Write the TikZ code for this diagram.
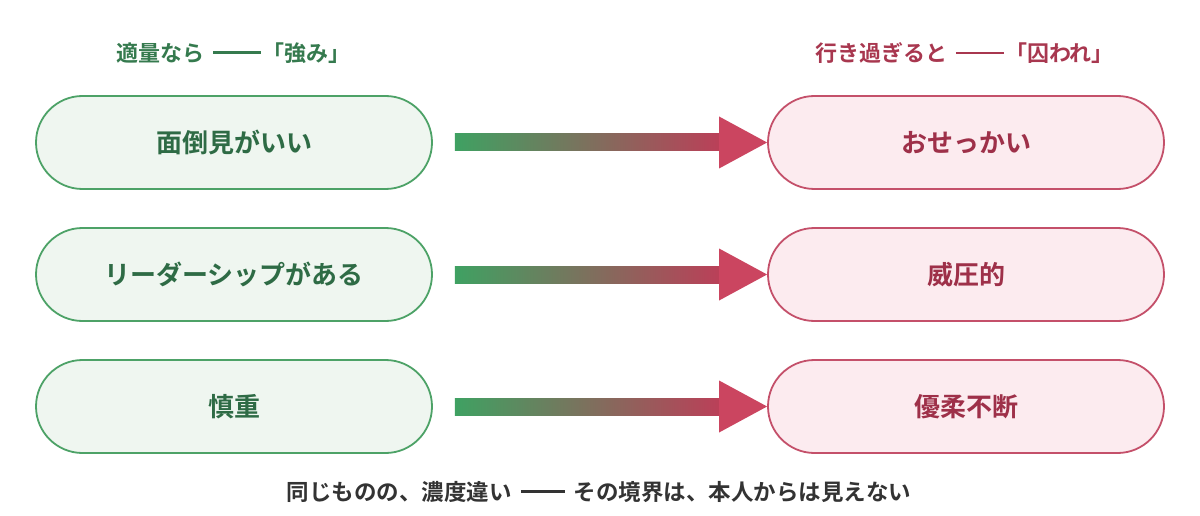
\documentclass[tikz,border=0pt]{standalone}
\usepackage{fontspec}
\setmainfont{Noto Sans CJK JP}[BoldFont={Noto Sans CJK JP Bold}]
\usetikzlibrary{calc}
\definecolor{gtext}{HTML}{2E6B45}
\definecolor{ghead}{HTML}{357A4E}
\definecolor{gline}{HTML}{4DA267}
\definecolor{gfill}{HTML}{EFF6F0}
\definecolor{rtext}{HTML}{9E3049}
\definecolor{rhead}{HTML}{A8374F}
\definecolor{rline}{HTML}{C4506A}
\definecolor{rfill}{HTML}{FCEBEF}
\definecolor{agreen}{HTML}{3FA162}
\definecolor{ared}{HTML}{CB4560}
\definecolor{btext}{HTML}{333333}
\newcommand{\bardash}[2]{\hspace{0.4em}\rule[0.35em]{#1}{2.2pt}\hspace{#2}}
\tikzset{
  pill/.style={rectangle, rounded corners=46.5pt, minimum width=396pt, minimum height=93pt, line width=1.8pt, inner sep=0pt, font=\fontsize{26}{30}\selectfont\bfseries},
  goodbox/.style={pill, draw=gline, fill=gfill, text=gtext},
  badbox/.style={pill, draw=rline, fill=rfill, text=rtext},
  headtxt/.style={font=\fontsize{22}{26}\selectfont\bfseries, inner sep=0pt}
}
\newcommand{\gradarrow}[2]{%
  \shade[left color=agreen, right color=ared!92!black!100]
    ($(#1.east)+(22pt,8.5pt)$) rectangle ($(#2.west)+(-47pt,-8.5pt)$);
  \fill[ared] ($(#2.west)+(-48pt,26pt)$) -- (#2.west) -- ($(#2.west)+(-48pt,-26pt)$) -- cycle;
}
\begin{document}
\begin{tikzpicture}[x=1pt,y=-1pt]
\useasboundingbox (0,0) rectangle (1200,516);
\node[headtxt, text=ghead] (hl) at (233.5,53) {適量なら\bardash{48pt}{0.05em}「強み」};
\node[headtxt, text=rhead] (hr) at (964.5,53) {行き過ぎると\bardash{48pt}{0.05em}「囚われ」};
\node[goodbox] (l1) at (234,142.5) {面倒見がいい};
\node[goodbox] (l2) at (234,274.5) {リーダーシップがある};
\node[goodbox] (l3) at (234,406.5) {慎重};
\node[badbox] (r1) at (966,142.5) {おせっかい};
\node[badbox] (r2) at (966,274.5) {威圧的};
\node[badbox] (r3) at (966,406.5) {優柔不断};
\gradarrow{l1}{r1}
\gradarrow{l2}{r2}
\gradarrow{l3}{r3}
\node[font=\fontsize{22.5}{26}\selectfont\bfseries, text=btext, inner sep=0pt] (foot) at (599,492) {同じものの、濃度違い\bardash{44pt}{0.4em}その境界は、本人からは見えない};
\end{tikzpicture}
\end{document}
